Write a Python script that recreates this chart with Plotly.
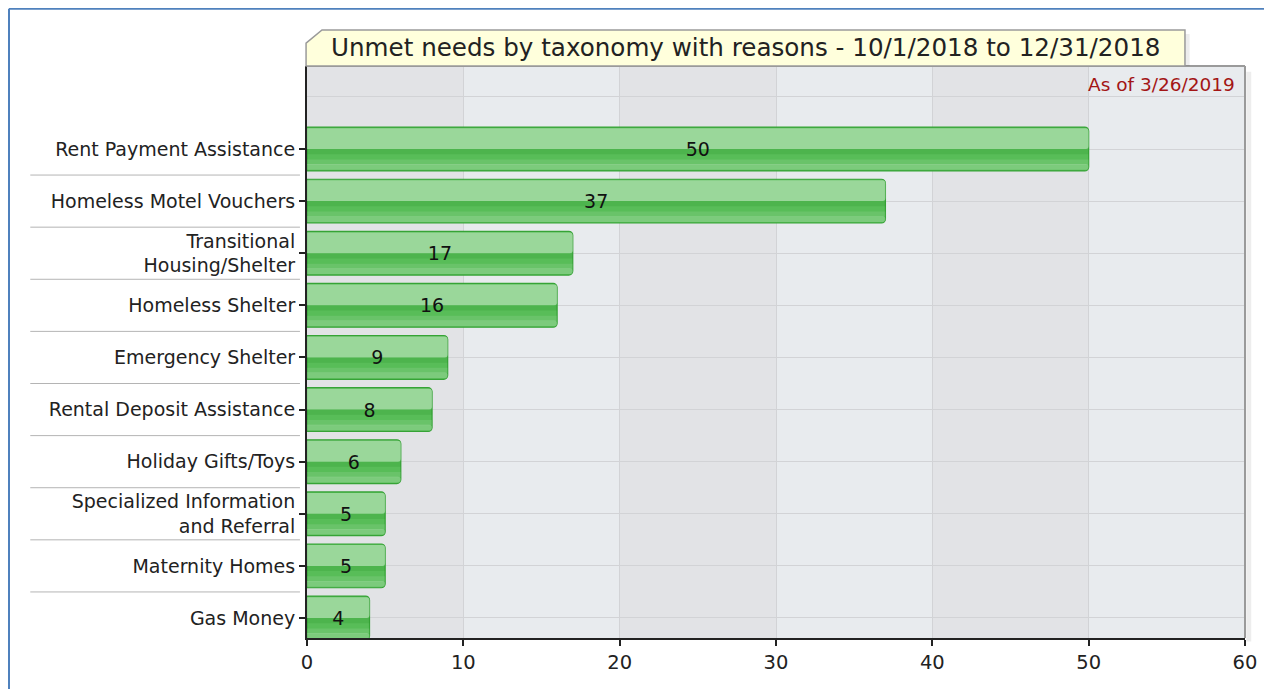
import plotly.graph_objects as go

# ---------------- data ----------------
categories = [
    "Rent Payment Assistance",
    "Homeless Motel Vouchers",
    "Transitional<br>Housing/Shelter",
    "Homeless Shelter",
    "Emergency Shelter",
    "Rental Deposit Assistance",
    "Holiday Gifts/Toys",
    "Specialized Information<br>and Referral",
    "Maternity Homes",
    "Gas Money",
]
values = [50, 37, 17, 16, 9, 8, 6, 5, 5, 4]
x_ticks = [0, 10, 20, 30, 40, 50, 60]
title_text = "Unmet needs by taxonomy with reasons - 10/1/2018 to 12/31/2018"
asof_text = "As of 3/26/2019"

# ---------------- figure ----------------
FONT = "DejaVu Sans"
n = len(categories)
ypos = [n - 1 - i for i in range(n)]  # first category on top

fig = go.Figure()

# base bar
fig.add_trace(go.Bar(
    x=values, y=ypos, orientation="h", width=0.84,
    marker=dict(color="#58bd58", line=dict(color="#36a336", width=1.2), cornerradius=4),
    hoverinfo="skip",
))
# upper glossy highlight
fig.add_trace(go.Bar(
    x=values, y=ypos, orientation="h", width=0.40, offset=0.0,
    marker=dict(color="rgba(255,255,255,0.40)", line=dict(width=0), cornerradius=3),
    hoverinfo="skip",
))
# darker middle band
fig.add_trace(go.Bar(
    x=values, y=ypos, orientation="h", width=0.10, offset=-0.10,
    marker=dict(color="rgba(30,140,30,0.18)", line=dict(width=0)),
    hoverinfo="skip",
))
# lower light gradient strips
fig.add_trace(go.Bar(
    x=values, y=ypos, orientation="h", width=0.10, offset=-0.30,
    marker=dict(color="rgba(255,255,255,0.10)", line=dict(width=0)),
    hoverinfo="skip",
))
fig.add_trace(go.Bar(
    x=values, y=ypos, orientation="h", width=0.11, offset=-0.40,
    marker=dict(color="rgba(255,255,255,0.22)", line=dict(width=0), cornerradius=3),
    hoverinfo="skip",
))
# value labels
fig.add_trace(go.Bar(
    x=values, y=ypos, orientation="h", width=0.84,
    marker=dict(color="rgba(0,0,0,0)", line=dict(width=0)),
    text=[str(v) for v in values], textposition="inside", insidetextanchor="middle",
    textfont=dict(family=FONT, size=19, color="#111111"), constraintext="none",
    hoverinfo="skip",
))

GRID = "#d2d3d6"
fig.update_layout(
    width=1264, height=681,
    margin=dict(l=299, r=27, t=58, b=51),
    paper_bgcolor="white", plot_bgcolor="#e8ebee",
    barmode="overlay", showlegend=False,
    font=dict(family=FONT, color="#222222", size=19),
    xaxis=dict(
        range=[0, 60], tickmode="array", tickvals=x_ticks,
        ticks="outside", ticklen=6, tickwidth=1.5, tickcolor="#222",
        showline=True, linecolor="#222", linewidth=2,
        showgrid=True, gridcolor=GRID, gridwidth=1.2, zeroline=False,
        tickfont=dict(family=FONT, size=19.5, color="#222"),
    ),
    yaxis=dict(
        range=[-0.384, 10.593], tickmode="array", tickvals=ypos, ticktext=categories,
        ticks="outside", ticklen=6, tickwidth=1.5, tickcolor="#222",
        showline=True, linecolor="#222", linewidth=2,
        showgrid=True, gridcolor=GRID, gridwidth=1.2, zeroline=False,
        minor=dict(tickmode="linear", tick0=0, dtick=1, showgrid=True,
                   gridcolor=GRID, gridwidth=1.2, ticks=""),
        tickfont=dict(family=FONT, size=19, color="#222"),
    ),
)

shapes = []
# alternating vertical bands
for t in x_ticks[:-1:2]:
    shapes.append(dict(type="rect", xref="x", yref="paper", x0=t, x1=t + 10, y0=0, y1=1,
                       fillcolor="#e2e3e6", line=dict(width=0), layer="below"))
# plot frame (top, right) and shadow
shapes.append(dict(type="line", xref="paper", yref="paper", x0=1.004, x1=1.004, y0=-0.006, y1=0.99,
                   line=dict(color="rgba(0,0,0,0.07)", width=5)))
shapes.append(dict(type="line", xref="paper", yref="paper", x0=0, x1=1, y0=1, y1=1,
                   line=dict(color="#9a9a9a", width=2)))
shapes.append(dict(type="line", xref="paper", yref="paper", x0=1, x1=1, y0=0, y1=1,
                   line=dict(color="#9a9a9a", width=2)))
# title box with chamfered corner + shadow
shapes.append(dict(type="rect", xref="paper", yref="paper", x0=0.936, x1=0.941, y0=1.0, y1=1.056,
                   fillcolor="rgba(0,0,0,0.07)", line=dict(width=0)))
shapes.append(dict(type="path", xref="paper", yref="paper",
                   path="M -0.001,1.0 L -0.001,1.040 L 0.016,1.063 L 0.936,1.063 L 0.936,1.0 Z",
                   fillcolor="#ffffdc", line=dict(color="#9a9a9a", width=1.5)))
# separators between category labels
for i in range(n - 1):
    shapes.append(dict(type="line", xref="paper", yref="y", x0=-0.295, x1=-0.0075,
                       y0=i + 0.5, y1=i + 0.5, line=dict(color="#b4b4b4", width=1)))
# outer blue frame
shapes.append(dict(type="line", xref="paper", yref="paper", x0=-0.3177, x1=1.03, y0=1.1, y1=1.1,
                   line=dict(color="#4f81bd", width=2)))
shapes.append(dict(type="line", xref="paper", yref="paper", x0=-0.3177, x1=-0.3177, y0=-0.095, y1=1.1,
                   line=dict(color="#4f81bd", width=2)))
fig.update_layout(shapes=shapes)

fig.add_annotation(xref="paper", yref="paper", x=0.4675, y=1.0315, xanchor="center", yanchor="middle",
                   text=title_text, showarrow=False,
                   font=dict(family=FONT, size=24.6, color="#222222"))
fig.add_annotation(xref="paper", yref="paper", x=0.9915, y=0.9668, xanchor="right", yanchor="middle",
                   text=asof_text, showarrow=False,
                   font=dict(family=FONT, size=18.5, color="#a31515"))

fig.write_html("out.html")
